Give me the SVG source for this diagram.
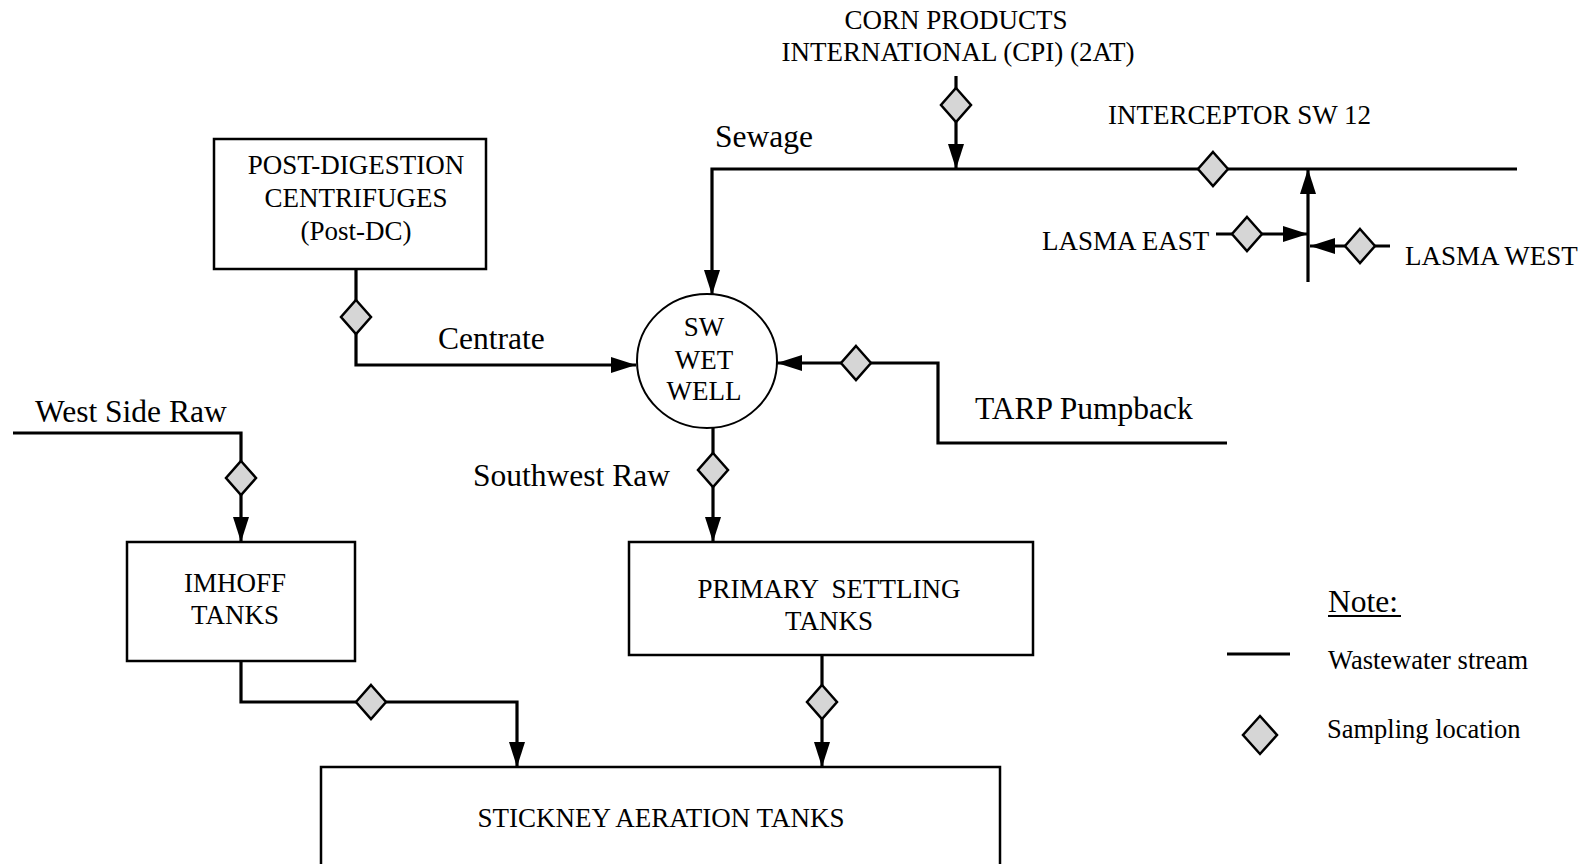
<svg xmlns="http://www.w3.org/2000/svg" width="1589" height="864" viewBox="0 0 1589 864">
<style>
  .bg{fill:#ffffff}
  .box{fill:#ffffff;stroke:#000;stroke-width:2.5}
  .well{fill:#ffffff;stroke:#000;stroke-width:2}
  .flow{fill:none;stroke:#000;stroke-width:3.2;stroke-linejoin:miter}
  .arrow{fill:none;stroke:#000;stroke-width:3.2;marker-end:url(#ah)}
  .dia{fill:#d6d6d6;stroke:#000;stroke-width:2.5}
  .big{font-family:"Liberation Serif","Times New Roman",serif;font-size:31.5px;fill:#000}
  .cap{font-family:"Liberation Serif","Times New Roman",serif;font-size:27px;fill:#000}
  .leg{font-family:"Liberation Serif","Times New Roman",serif;font-size:26.5px;fill:#000}
  .mid{text-anchor:middle}
</style>
<defs>
  <marker id="ah" markerUnits="userSpaceOnUse" markerWidth="25" markerHeight="16" refX="25" refY="8" orient="auto">
    <path d="M0,0 L25,8 L0,16 z" fill="#000"/>
  </marker>
  <path id="d" d="M0,-17 L15,0 L0,17 L-15,0 z"/>
</defs>
<rect class="bg" x="0" y="0" width="1589" height="864"/>

<g id="connectors">
  <path class="arrow" d="M956,76 L956,169"/>
  <path class="arrow" d="M1517,169 L712,169 L712,295"/>
  <path class="arrow" d="M1308,282 L1308,169"/>
  <path class="arrow" d="M1216,234 L1308,234"/>
  <path class="arrow" d="M1390,246 L1310,246"/>
  <path class="arrow" d="M356,269 L356,365 L636,365"/>
  <path class="arrow" d="M1227,443 L938,443 L938,363 L777,363"/>
  <path class="arrow" d="M713,428 L713,542"/>
  <path class="arrow" d="M13,433 L241,433 L241,542"/>
  <path class="arrow" d="M241,661 L241,702 L517,702 L517,767"/>
  <path class="arrow" d="M822,655 L822,767"/>
</g>

<g id="sampling-points">
  <use href="#d" class="dia" x="956" y="105"/>
  <use href="#d" class="dia" x="1213" y="169"/>
  <use href="#d" class="dia" x="1247" y="234"/>
  <use href="#d" class="dia" x="1360" y="246"/>
  <use href="#d" class="dia" x="356" y="317"/>
  <use href="#d" class="dia" x="856" y="363"/>
  <use href="#d" class="dia" x="713" y="470"/>
  <use href="#d" class="dia" x="241" y="478"/>
  <use href="#d" class="dia" x="371" y="702"/>
  <use href="#d" class="dia" x="822" y="702"/>
</g>

<g id="cpi">
  <text class="cap mid" x="956" y="29">CORN PRODUCTS</text>
  <text class="cap mid" x="958" y="61">INTERNATIONAL (CPI) (2AT)</text>
</g>
<g id="interceptor">
  <text class="cap" x="1108" y="124">INTERCEPTOR SW 12</text>
  <text class="big" x="715" y="147">Sewage</text>
</g>
<g id="lasma-east">
  <text class="cap" x="1042" y="250">LASMA EAST</text>
</g>
<g id="lasma-west">
  <text class="cap" x="1405" y="265">LASMA WEST</text>
</g>

<g id="post-dc">
  <rect class="box" x="214" y="139" width="272" height="130"/>
  <text class="cap mid" x="356" y="174">POST-DIGESTION</text>
  <text class="cap mid" x="356" y="207">CENTRIFUGES</text>
  <text class="cap mid" x="356" y="240">(Post-DC)</text>
</g>
<g id="centrate">
  <text class="big" x="438" y="349">Centrate</text>
</g>

<g id="sw-wet-well">
  <ellipse class="well" cx="707" cy="361" rx="70" ry="67"/>
  <text class="cap mid" x="704" y="336">SW</text>
  <text class="cap mid" x="704" y="369">WET</text>
  <text class="cap mid" x="704" y="400">WELL</text>
</g>

<g id="tarp">
  <text class="big" x="975" y="419">TARP Pumpback</text>
</g>
<g id="southwest-raw">
  <text class="big" x="473" y="486">Southwest Raw</text>
</g>
<g id="west-side-raw">
  <text class="big" x="35" y="422">West Side Raw</text>
</g>

<g id="imhoff">
  <rect class="box" x="127" y="542" width="228" height="119"/>
  <text class="cap mid" x="235" y="592">IMHOFF</text>
  <text class="cap mid" x="235" y="624">TANKS</text>
</g>

<g id="primary-settling">
  <rect class="box" x="629" y="542" width="404" height="113"/>
  <text class="cap mid" x="829" y="598" xml:space="preserve">PRIMARY  SETTLING</text>
  <text class="cap mid" x="829" y="630">TANKS</text>
</g>

<g id="stickney">
  <rect class="box" x="321" y="767" width="679" height="110"/>
  <text class="cap mid" x="661" y="827">STICKNEY AERATION TANKS</text>
</g>

<g id="legend">
  <text class="big" x="1328" y="612">Note:</text>
  <line x1="1328" y1="616" x2="1401" y2="616" stroke="#000" stroke-width="2"/>
  <line class="flow" x1="1227" y1="654" x2="1290" y2="654"/>
  <text class="leg" x="1328" y="669">Wastewater stream</text>
  <path class="dia" d="M1260,716 L1277,735 L1260,754 L1243,735 z"/>
  <text class="leg" x="1327" y="738">Sampling location</text>
</g>
</svg>
